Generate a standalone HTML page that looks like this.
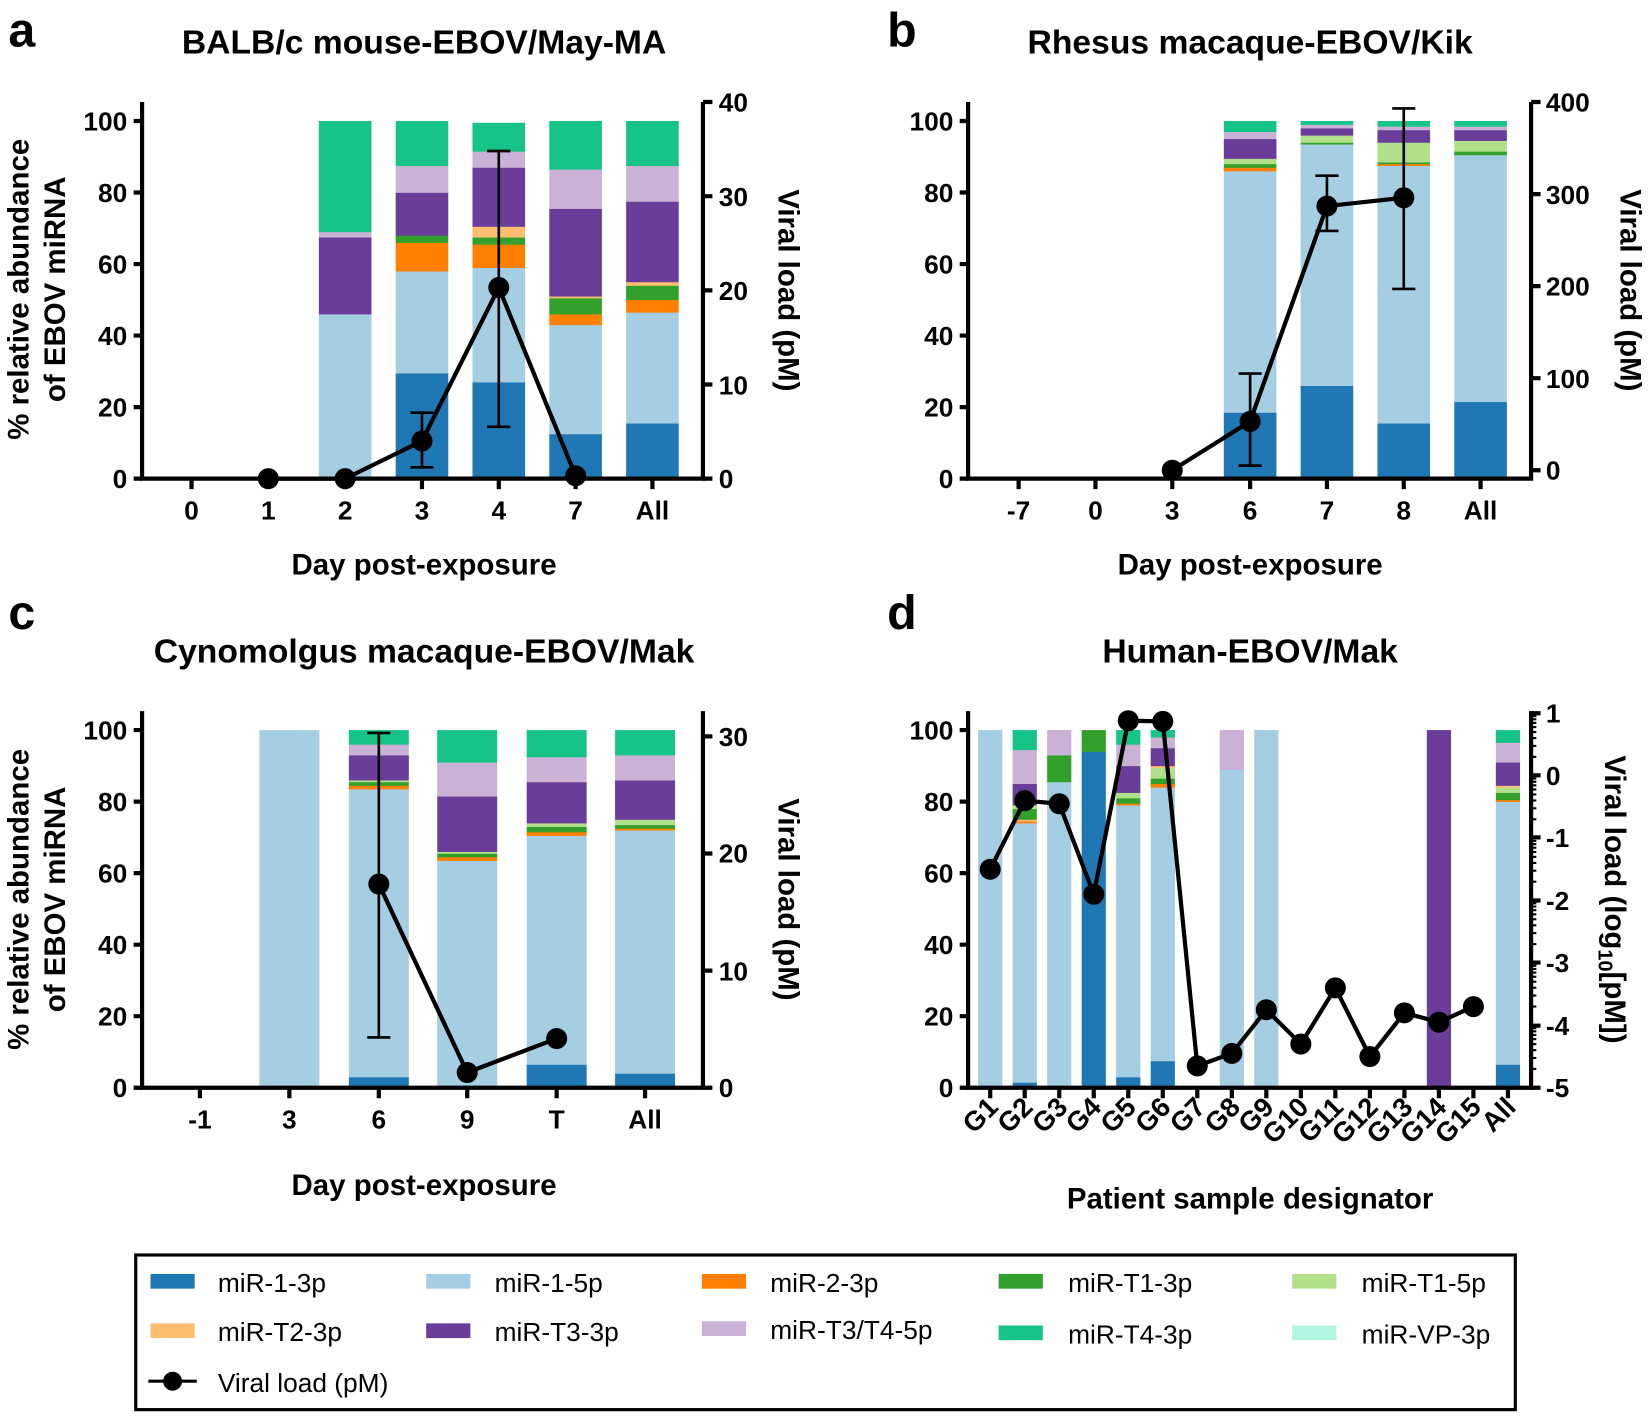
<!DOCTYPE html>
<html><head><meta charset="utf-8"><style>
html,body{margin:0;padding:0;background:#fff;}
svg{display:block;}
text{font-family:"Liberation Sans",Arial,sans-serif;fill:#000;}
.tk{font-size:25px;font-weight:bold;}
.tt{font-size:32px;font-weight:bold;}
.pl{font-size:46px;font-weight:bold;}
.lg{font-size:25px;}
</style></head><body>
<svg id="s" width="1650" height="1417" viewBox="0 0 1568 1347" preserveAspectRatio="none" xmlns="http://www.w3.org/2000/svg">
<g id="bars"></g>
<g fill="none" stroke="#000" stroke-width="4">
<path d="M135 97V457M133 455H668M668 97V457"/>
<path d="M127 455H135M127 387H135M127 319H135M127 251H135M127 183H135M127 115H135"/>
<path d="M668 455H677M668 365.5H677M668 276H677M668 186.5H677M668 97H677"/>
<path d="M182 455v10M255 455v10M328 455v10M401 455v10M474 455v10M547 455v10M620 455v10"/>
<path d="M920 97V457M918 455H1455M1455 97V457"/>
<path d="M912 455H920M912 387H920M912 319H920M912 251H920M912 183H920M912 115H920"/>
<path d="M1455 447H1464M1455 359.5H1464M1455 272H1464M1455 184.5H1464M1455 97H1464"/>
<path d="M968 455v10M1041 455v10M1114 455v10M1188 455v10M1261 455v10M1334 455v10M1407 455v10"/>
<path d="M135 676V1036M133 1034H668M668 676V1036"/>
<path d="M127 1034H135M127 966H135M127 898H135M127 830H135M127 762H135M127 694H135"/>
<path d="M668 1034H677M668 922.7H677M668 811.3H677M668 700H677"/>
<path d="M190 1034v10M275 1034v10M360 1034v10M444 1034v10M529 1034v10M613 1034v10"/>
<path d="M920 676V1036M918 1034H1455M1455 676V1036"/>
<path d="M912 1034H920M912 966H920M912 898H920M912 830H920M912 762H920M912 694H920"/>
<path d="M1455 678H1464M1455 737H1464M1455 796H1464M1455 856H1464M1455 915H1464M1455 975H1464M1455 1034H1464"/>
<path id="dxt" d=""/>
</g>
<g id="minor" stroke="#000" stroke-width="2"></g>
<g id="lines"></g>

<text class="pl" x="8" y="44">a</text>
<text class="pl" x="843" y="44">b</text>
<text class="pl" x="8" y="598">c</text>
<text class="pl" x="843" y="598">d</text>
<text class="tt" x="403" y="51" text-anchor="middle">BALB/c mouse-EBOV/May-MA</text>
<text class="tt" x="1188" y="51" text-anchor="middle">Rhesus macaque-EBOV/Kik</text>
<text class="tt" x="403" y="630" text-anchor="middle">Cynomolgus macaque-EBOV/Mak</text>
<text class="tt" x="1188" y="630" text-anchor="middle">Human-EBOV/Mak</text>

<g class="tk" text-anchor="end">
<text x="121" y="464">0</text><text x="121" y="396">20</text><text x="121" y="328">40</text><text x="121" y="260">60</text><text x="121" y="192">80</text><text x="121" y="124">100</text>
<text x="906" y="464">0</text><text x="906" y="396">20</text><text x="906" y="328">40</text><text x="906" y="260">60</text><text x="906" y="192">80</text><text x="906" y="124">100</text>
<text x="121" y="1043">0</text><text x="121" y="975">20</text><text x="121" y="907">40</text><text x="121" y="839">60</text><text x="121" y="771">80</text><text x="121" y="703">100</text>
<text x="906" y="1043">0</text><text x="906" y="975">20</text><text x="906" y="907">40</text><text x="906" y="839">60</text><text x="906" y="771">80</text><text x="906" y="703">100</text>
</g>
<g class="tk">
<text x="683" y="464">0</text><text x="683" y="375">10</text><text x="683" y="285">20</text><text x="683" y="196">30</text><text x="683" y="106">40</text>
<text x="1469" y="456">0</text><text x="1469" y="369">100</text><text x="1469" y="281">200</text><text x="1469" y="194">300</text><text x="1469" y="106">400</text>
<text x="683" y="1043">0</text><text x="683" y="932">10</text><text x="683" y="820">20</text><text x="683" y="709">30</text>
<text x="1469" y="687">1</text><text x="1469" y="746">0</text><text x="1469" y="805">-1</text><text x="1469" y="865">-2</text><text x="1469" y="924">-3</text><text x="1469" y="984">-4</text><text x="1469" y="1043">-5</text>
</g>
<g class="tk" text-anchor="middle">
<text x="182" y="494">0</text><text x="255" y="494">1</text><text x="328" y="494">2</text><text x="401" y="494">3</text><text x="474" y="494">4</text><text x="547" y="494">7</text><text x="620" y="494">All</text>
<text x="968" y="494">-7</text><text x="1041" y="494">0</text><text x="1114" y="494">3</text><text x="1188" y="494">6</text><text x="1261" y="494">7</text><text x="1334" y="494">8</text><text x="1407" y="494">All</text>
<text x="190" y="1073">-1</text><text x="275" y="1073">3</text><text x="360" y="1073">6</text><text x="444" y="1073">9</text><text x="529" y="1073">T</text><text x="613" y="1073">All</text>
</g>
<g class="tk" text-anchor="end" style="font-size:26px">
<text transform="translate(950,1054) rotate(-45)">G1</text>
<text transform="translate(983,1054) rotate(-45)">G2</text>
<text transform="translate(1016,1054) rotate(-45)">G3</text>
<text transform="translate(1048,1054) rotate(-45)">G4</text>
<text transform="translate(1081,1054) rotate(-45)">G5</text>
<text transform="translate(1114,1054) rotate(-45)">G6</text>
<text transform="translate(1147,1054) rotate(-45)">G7</text>
<text transform="translate(1180,1054) rotate(-45)">G8</text>
<text transform="translate(1212,1054) rotate(-45)">G9</text>
<text transform="translate(1245,1054) rotate(-45)">G10</text>
<text transform="translate(1278,1054) rotate(-45)">G11</text>
<text transform="translate(1311,1054) rotate(-45)">G12</text>
<text transform="translate(1344,1054) rotate(-45)">G13</text>
<text transform="translate(1376,1054) rotate(-45)">G14</text>
<text transform="translate(1409,1054) rotate(-45)">G15</text>
<text transform="translate(1442,1054) rotate(-45)">All</text>
</g>
<g class="tk" text-anchor="middle" style="font-size:28px">
<text x="403" y="546">Day post-exposure</text>
<text x="1188" y="546">Day post-exposure</text>
<text x="403" y="1136">Day post-exposure</text>
<text x="1188" y="1149">Patient sample designator</text>
<text transform="translate(27,275) rotate(-90)">% relative abundance</text>
<text transform="translate(62,275) rotate(-90)">of EBOV miRNA</text>
<text transform="translate(27,855) rotate(-90)">% relative abundance</text>
<text transform="translate(62,855) rotate(-90)">of EBOV miRNA</text>
<text transform="translate(740,276) rotate(90)">Viral load (pM)</text>
<text transform="translate(1540,276) rotate(90)">Viral load (pM)</text>
<text transform="translate(740,855) rotate(90)">Viral load (pM)</text>
<text transform="translate(1525,855) rotate(90)">Viral load (log<tspan font-size="19" dy="6">10</tspan><tspan dy="-6">[pM])</tspan></text>
</g>

<rect x="129" y="1193" width="1311" height="147" fill="none" stroke="#000" stroke-width="3"/>
<g>
<rect x="143" y="1211" width="42" height="14" fill="#1f78b4"/><text class="lg" x="207" y="1228">miR-1-3p</text>
<rect x="405" y="1211" width="42" height="14" fill="#a6cee3"/><text class="lg" x="470" y="1228">miR-1-5p</text>
<rect x="667" y="1211" width="42" height="14" fill="#ff7f00"/><text class="lg" x="732" y="1228">miR-2-3p</text>
<rect x="949" y="1211" width="42" height="14" fill="#33a02c"/><text class="lg" x="1015" y="1228">miR-T1-3p</text>
<rect x="1228" y="1211" width="42" height="14" fill="#b2df8a"/><text class="lg" x="1294" y="1228">miR-T1-5p</text>
<rect x="143" y="1258" width="42" height="14" fill="#fdbf6f"/><text class="lg" x="207" y="1275">miR-T2-3p</text>
<rect x="405" y="1258" width="42" height="14" fill="#6a3d9a"/><text class="lg" x="470" y="1275">miR-T3-3p</text>
<rect x="667" y="1256" width="42" height="14" fill="#cab2d6"/><text class="lg" x="732" y="1273">miR-T3/T4-5p</text>
<rect x="949" y="1260" width="42" height="14" fill="#17c487"/><text class="lg" x="1015" y="1277">miR-T4-3p</text>
<rect x="1228" y="1260" width="42" height="14" fill="#b2f5e0"/><text class="lg" x="1294" y="1277">miR-VP-3p</text>
<line x1="141" y1="1313" x2="187" y2="1313" stroke="#000" stroke-width="3"/><circle cx="164" cy="1313" r="9"/>
<text class="lg" x="207" y="1323">Viral load (pM)</text>
</g>
</svg>
<script>
var C={a:'#1f78b4',b:'#a6cee3',o:'#ff7f00',g:'#33a02c',l:'#b2df8a',y:'#fdbf6f',p:'#6a3d9a',v:'#cab2d6',t:'#17c487'};
var NS='http://www.w3.org/2000/svg',B=document.getElementById('bars'),L=document.getElementById('lines');
function el(n,a,p){var e=document.createElementNS(NS,n);for(var k in a)e.setAttribute(k,a[k]);p.appendChild(e);return e;}
function bar(cx,w,y0,s,segs){var prev=0;segs.forEach(function(q){var c=C[q[0]],top=q[1];el('rect',{x:cx-w/2,y:y0-s*top,width:w,height:s*(top-prev)+0.3,fill:c},B);prev=top;});}
var a0=455,as=3.4,w=50;
bar(328,w,a0,as,[['b',46],['p',67.5],['v',69],['t',100]]);
bar(401,w,a0,as,[['a',29.5],['b',58],['o',66],['g',68],['p',80],['v',87.5],['t',100]]);
bar(474,w,a0,as,[['a',27],['b',59],['o',65.5],['g',67.5],['y',70.5],['p',87],['v',91.5],['t',99.5]]);
bar(547,w,a0,as,[['a',12.5],['b',43],['o',46],['g',50.5],['y',51],['p',75.5],['v',86.5],['t',100]]);
bar(620,w,a0,as,[['a',15.5],['b',46.5],['o',50],['g',54],['y',55],['p',77.5],['v',87.5],['t',100]]);
bar(1188,w,a0,as,[['a',18.5],['b',86],['o',87],['g',88],['l',89.5],['p',95],['v',97],['t',100]]);
bar(1261,w,a0,as,[['a',26],['b',93.5],['g',94],['l',96],['p',98],['v',99],['t',100]]);
bar(1334,w,a0,as,[['a',15.5],['b',87.5],['o',88],['g',88.5],['l',94],['p',97.5],['v',98.5],['t',100]]);
bar(1407,w,a0,as,[['a',21.5],['b',90.5],['g',91.5],['l',94.5],['p',97.5],['v',98.5],['t',100]]);
var c0=1034,w2=57;
bar(275,w2,c0,as,[['b',100]]);
bar(360,w2,c0,as,[['a',3],['b',83.5],['o',84.5],['g',85.5],['l',86],['p',93],['v',96],['t',100]]);
bar(444,w2,c0,as,[['a',0.5],['b',63.5],['o',64.5],['g',65.5],['l',66],['p',81.5],['v',91],['t',100]]);
bar(529,w2,c0,as,[['a',6.5],['b',70.5],['o',71.5],['g',73],['l',74],['p',85.5],['v',92.5],['t',100]]);
bar(613,w2,c0,as,[['a',4],['b',72],['o',72.5],['g',73.5],['l',75],['p',86],['v',93],['t',100]]);
var dx=function(i){return 941+i*32.8;},w3=23;
bar(dx(0),w3,c0,as,[['b',100]]);
bar(dx(1),w3,c0,as,[['a',1.5],['b',74],['o',74.5],['y',75],['g',78],['l',79],['p',85],['v',94.5],['t',100]]);
bar(dx(2),w3,c0,as,[['b',85.5],['g',93],['v',100]]);
bar(dx(3),w3,c0,as,[['a',94],['g',100]]);
bar(dx(4),w3,c0,as,[['a',3],['b',79],['o',79.5],['g',81],['l',82.5],['p',90],['v',96],['t',100]]);
bar(dx(5),w3,c0,as,[['a',7.5],['b',84],['o',85],['g',86.5],['l',89.5],['y',90],['p',95],['v',98],['t',100]]);
bar(dx(7),w3,c0,as,[['b',89],['v',100]]);
bar(dx(8),w3,c0,as,[['b',100]]);
bar(dx(13),w3,c0,as,[['p',100]]);
bar(dx(15),w3,c0,as,[['a',6.5],['b',80],['o',80.5],['g',82.5],['l',84],['y',84.5],['p',91],['v',96.5],['t',100]]);
var t='';for(var i=0;i<16;i++)t+='M'+dx(i)+' 1034v10';document.getElementById('dxt').setAttribute('d',t);
var M=document.getElementById('minor');
for(var d=-5;d<1;d++)for(var k=2;k<10;k++){var y=1034-(d+5+Math.log10(k))*59.33;el('line',{x1:1455,x2:1460,y1:y,y2:y},M);}
function series(pts,errs){var s='';pts.forEach(function(p,i){s+=(i?'L':'M')+p[0]+' '+p[1];});
el('path',{d:s,fill:'none',stroke:'#000','stroke-width':4,'stroke-linejoin':'round'},L);
(errs||[]).forEach(function(e){el('path',{d:'M'+e[0]+' '+e[1]+'V'+e[2]+'M'+(e[0]-11)+' '+e[1]+'h22M'+(e[0]-11)+' '+e[2]+'h22',fill:'none',stroke:'#000','stroke-width':2.5},L);});
pts.forEach(function(p){el('circle',{cx:p[0],cy:p[1],r:10,fill:'#000'},L);});}
var ay=function(v){return 455-v*8.95;};
series([[255,ay(0)],[328,ay(0)],[401,ay(4)],[474,ay(20.3)],[547,ay(0.3)]],[[401,ay(1.2),ay(7)],[474,ay(5.5),ay(34.8)]]);
var by=function(v){return 447-v*0.875;};
series([[1114,by(0)],[1188,by(53)],[1261,by(287)],[1334,by(296)]],[[1188,by(5),by(105)],[1261,by(260),by(320)],[1334,by(197),by(393)]]);
var cy=function(v){return 1034-v*11.13;};
series([[360,cy(17.4)],[444,cy(1.3)],[529,cy(4.2)]],[[360,cy(4.3),cy(30.3)]]);
var dy=function(v){return 1034-(v+5)*59.33;};
var dv=[-1.5,-0.4,-0.45,-1.9,0.88,0.87,-4.65,-4.45,-3.75,-4.3,-3.4,-4.5,-3.8,-3.95,-3.7];
series(dv.map(function(v,i){return [dx(i),dy(v)];}));
</script>
</body></html>
